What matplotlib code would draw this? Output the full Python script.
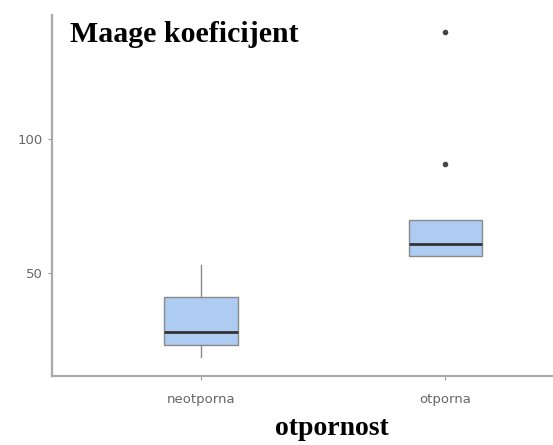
import matplotlib.pyplot as plt

categories = ["neotporna", "otporna"]
whislo = [18.7, 56.3]
q1 = [23.1, 56.3]
med = [28.0, 60.8]
q3 = [41.0, 69.8]
whishi = [53.0, 69.8]
fliers = [[], [90.7, 139.9]]


def main():
    stats = []
    for i in range(len(categories)):
        stats.append({"label": categories[i], "whislo": whislo[i], "q1": q1[i],
                      "med": med[i], "q3": q3[i], "whishi": whishi[i],
                      "fliers": fliers[i]})

    fig = plt.figure(figsize=(5.53, 4.45), dpi=100)
    ax = fig.add_axes([0.094, 0.155, 0.906, 0.811])
    ax.bxp(stats, positions=[1, 2], widths=0.3, patch_artist=True,
           showcaps=False,
           boxprops=dict(facecolor="#aecbf2", edgecolor="#8a8a8a", linewidth=1),
           medianprops=dict(color="#333333", linewidth=2),
           whiskerprops=dict(color="#8a8a8a", linewidth=1),
           flierprops=dict(marker="o", markersize=3, markerfacecolor="#444444",
                           markeredgecolor="#444444"))

    ax.set_xlim(0.39, 2.44)
    ax.set_ylim(11.6, 146)
    ax.set_yticks([50, 100])
    ax.set_xticks([1, 2])
    ax.set_xticklabels(categories)
    ax.tick_params(colors="#999999", labelcolor="#666666", labelsize=9.5, length=3)
    ax.tick_params(axis="x", pad=9)
    for s in ["top", "right"]:
        ax.spines[s].set_visible(False)
    for s in ["left", "bottom"]:
        ax.spines[s].set_color("#aaaaaa")
        ax.spines[s].set_linewidth(1.6)

    ax.text(0.035, 0.985, "Maage koeficijent", transform=ax.transAxes,
            family="Liberation Serif", fontweight="bold", fontsize=21.5,
            va="top", ha="left")
    fig.text(332 / 553, 0.01, "otpornost", family="Liberation Serif",
             fontweight="bold", fontsize=20, ha="center", va="bottom")

    fig.savefig("out.png", dpi=100)


if __name__ == '__main__':
    main()
